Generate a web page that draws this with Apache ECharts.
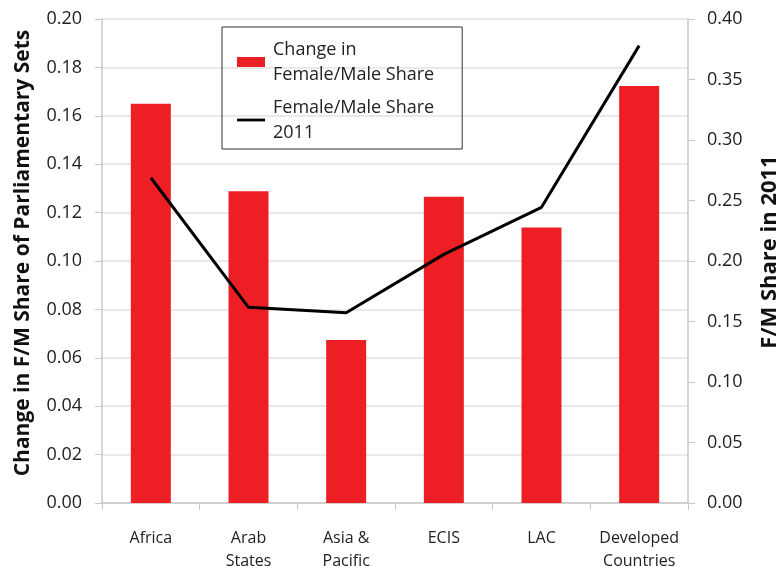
<!DOCTYPE html>
<html>
<head>
<meta charset="utf-8">
<script src="https://cdn.jsdelivr.net/npm/echarts@6/dist/echarts.min.js"></script>
<style>
  html, body { margin: 0; padding: 0; background: #fff; }
  #chart { width: 782px; height: 567px; }
</style>
</head>
<body>
<div id="chart"></div>
<script>
// Regions on the category axis
const regions = ['Africa', 'Arab\nStates', 'Asia &\nPacific', 'ECIS', 'LAC', 'Developed\nCountries'];
// Change in female/male share of parliamentary seats (left axis)
const changeShare = [0.165, 0.1288, 0.0674, 0.1265, 0.1138, 0.1723];
// Female/male share in 2011 (right axis)
const share2011 = [0.2688, 0.1617, 0.1573, 0.2055, 0.2444, 0.378];

const FONT = '"Open Sans", "Noto Sans", sans-serif';
const chart = echarts.init(document.getElementById('chart'));

chart.setOption({
  animation: false,
  textStyle: { fontFamily: FONT },
  grid: { left: 102, right: 94, top: 19, bottom: 64, outerBoundsMode: 'none', containLabel: false },
  legend: {
    left: 222, top: 27,
    orient: 'vertical',
    itemWidth: 28, itemHeight: 10,
    itemGap: 8,
    padding: [10, 28, 4, 15],
    borderColor: '#333', borderWidth: 1,
    textStyle: { fontFamily: FONT, fontSize: 18, color: '#222', lineHeight: 25, padding: [0, 0, 0, 3] },
    data: [
      { name: 'Change in\nFemale/Male Share', icon: 'rect' },
      { name: 'Female/Male Share\n2011', icon: 'path://M0,0 L10,0 L10,1 L0,1 Z' }
    ]
  },
  xAxis: {
    type: 'category',
    data: regions,
    axisLine: { lineStyle: { color: '#c8c8c8', width: 1.5 } },
    axisTick: { show: true, interval: 0, length: 7, lineStyle: { color: '#c8c8c8' } },
    axisLabel: { interval: 0, color: '#222', fontSize: 16, lineHeight: 23, margin: 24, fontFamily: FONT }
  },
  yAxis: [
    {
      type: 'value', min: 0, max: 0.2, interval: 0.02,
      name: 'Change in F/M Share of Parliamentary Sets',
      nameLocation: 'middle', nameGap: 68,
      nameTextStyle: { fontSize: 21, fontWeight: 'bold', color: '#111', fontFamily: FONT, padding: [0, 0, 0, 16] },
      axisLine: { show: true, lineStyle: { color: '#c8c8c8', width: 1.5 } },
      axisTick: { show: true, length: 7, lineStyle: { color: '#c8c8c8' } },
      splitLine: { lineStyle: { color: '#e2e2e2', width: 1.5 } },
      axisLabel: { color: '#222', fontSize: 18, margin: 20, formatter: v => v.toFixed(2) }
    },
    {
      type: 'value', min: 0, max: 0.4, interval: 0.05,
      name: 'F/M Share in 2011',
      nameLocation: 'middle', nameGap: 71, nameRotate: 90,
      nameTextStyle: { fontSize: 22, fontWeight: 'bold', color: '#111', fontFamily: FONT, padding: [0, 0, 0, 18] },
      axisLine: { show: true, lineStyle: { color: '#c8c8c8', width: 1.5 } },
      axisTick: { show: true, length: 7, lineStyle: { color: '#c8c8c8' } },
      splitLine: { show: false },
      axisLabel: { color: '#222', fontSize: 18, margin: 19, formatter: v => v.toFixed(2) }
    }
  ],
  series: [
    {
      name: 'Change in\nFemale/Male Share',
      type: 'bar',
      yAxisIndex: 0,
      data: changeShare,
      barWidth: 40,
      itemStyle: { color: '#ed1f24' }
    },
    {
      name: 'Female/Male Share\n2011',
      type: 'line',
      yAxisIndex: 1,
      data: share2011,
      showSymbol: false,
      symbol: 'none',
      lineStyle: { color: '#000', width: 3 },
      itemStyle: { color: '#000' }
    }
  ]
});
</script>
</body>
</html>
